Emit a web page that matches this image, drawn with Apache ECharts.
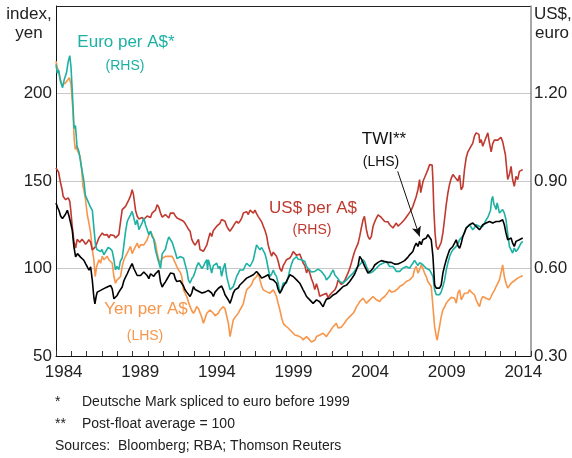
<!DOCTYPE html>
<html>
<head>
<meta charset="utf-8">
<title>Australian dollar</title>
<script src="https://cdn.jsdelivr.net/npm/echarts@6/dist/echarts.min.js"></script>
<style>
  html, body { margin: 0; padding: 0; background: #fff; }
  #chart { width: 572px; height: 458px; }
</style>
</head>
<body>
<div id="chart"></div>
<script>
// [decimal year, value]
// TWI, post-float average = 100 (LHS)
const twi = [
  [1984.00,137.4],[1984.10,135],[1984.20,133],[1984.30,130],[1984.42,128.5],[1984.52,127.5],[1984.62,131],[1984.74,133.3],[1984.85,130],[1984.95,129],
  [1985.06,121.9],[1985.17,112.3],[1985.28,106.6],[1985.40,108.5],[1985.50,107.5],[1985.60,106.5],[1985.71,106],[1985.82,104.7],[1985.93,102.8],
  [1986.04,101],[1986.15,99],[1986.26,101],[1986.37,93.2],[1986.47,83.6],[1986.54,79.8],[1986.62,84],[1986.69,86.5],[1986.80,87],[1986.91,87.5],
  [1987.02,88.4],[1987.12,88.5],[1987.23,89.5],[1987.34,89.4],[1987.45,90.3],[1987.56,90.3],[1987.67,88.4],[1987.78,82.7],[1987.88,81.7],[1987.99,84.6],
  [1988.10,86.5],[1988.21,88],[1988.32,89.4],[1988.43,93],[1988.54,95.1],[1988.65,97],[1988.75,99],[1988.86,101],[1988.97,102.8],
  [1989.08,100],[1989.19,98.9],[1989.30,96],[1989.41,95.1],[1989.52,96],[1989.62,97],[1989.73,98],[1989.84,98.9],[1989.95,96],
  [1990.06,94.2],[1990.17,97],[1990.27,96],[1990.38,95.5],[1990.49,97],[1990.60,98],[1990.71,98.9],[1990.82,92.3],[1990.93,89.4],
  [1991.03,91],[1991.14,92.3],[1991.25,94],[1991.36,95.1],[1991.47,97.4],[1991.58,97.4],[1991.69,97],[1991.79,94],[1991.88,92.6],[1991.99,91.6],
  [1992.10,93],[1992.21,92],[1992.32,90],[1992.42,87.8],[1992.53,86.5],[1992.64,85.9],[1992.75,84],[1992.86,86],[1992.97,89.7],
  [1993.08,88],[1993.18,87.8],[1993.30,87],[1993.40,86.8],[1993.52,86],[1993.62,85.9],[1993.73,86.5],[1993.84,86.8],[1993.94,87.5],
  [1994.05,87.8],[1994.16,86],[1994.27,84],[1994.38,86.5],[1994.49,87.3],[1994.60,88.7],[1994.70,88.7],[1994.81,90],[1994.92,87.8],
  [1995.03,85],[1995.14,84],[1995.25,82],[1995.36,80.1],[1995.47,83],[1995.57,86],[1995.68,87.8],[1995.79,87.8],[1995.90,89],
  [1996.00,90.6],[1996.12,91.5],[1996.23,92.6],[1996.33,93.5],[1996.44,94.5],[1996.55,95],[1996.66,95.4],[1996.77,96],[1996.88,96.4],[1996.98,97.5],
  [1997.09,98.3],[1997.20,99.3],[1997.31,96],[1997.42,94.5],[1997.53,94.5],[1997.64,95.4],[1997.74,94.5],[1997.85,96.5],[1997.96,94],
  [1998.07,93.5],[1998.18,93.5],[1998.29,92.8],[1998.39,91.6],[1998.50,88],[1998.61,85.9],[1998.72,87.5],[1998.83,89.7],[1998.94,90.5],
  [1999.04,92.6],[1999.15,94.5],[1999.26,96.4],[1999.37,95.5],[1999.48,95.4],[1999.59,94.5],[1999.70,93.5],[1999.80,92.5],[1999.91,91.6],
  [2000.02,90.5],[2000.13,87.8],[2000.24,86],[2000.35,84],[2000.46,83],[2000.56,82.1],[2000.67,81],[2000.78,80.1],[2000.89,81],
  [2001.00,82.1],[2001.10,81.5],[2001.21,81],[2001.32,79.5],[2001.43,78.2],[2001.54,80.5],[2001.65,82.5],[2001.75,82],[2001.86,83],[2001.97,84],
  [2002.09,84.9],[2002.20,85],[2002.30,85.9],[2002.41,86.5],[2002.52,87.8],[2002.63,88],[2002.74,89.7],[2002.85,90],[2002.96,90.5],
  [2003.06,91.6],[2003.17,92.6],[2003.28,93.5],[2003.39,95.4],[2003.50,97],[2003.61,99.3],[2003.72,102],[2003.82,106.9],[2003.93,105.5],
  [2004.04,105],[2004.15,101.2],[2004.26,102.1],[2004.36,97.4],[2004.47,98.3],[2004.58,99],[2004.69,100.2],[2004.80,102],[2004.91,103.1],
  [2005.02,103.5],[2005.13,104],[2005.23,104.5],[2005.34,105],[2005.45,104],[2005.56,103.1],[2005.67,103.5],[2005.78,104],[2005.88,103.5],[2005.99,103.1],
  [2006.10,102.5],[2006.21,102.1],[2006.32,102.6],[2006.43,103.1],[2006.54,103.5],[2006.64,104],[2006.75,104.5],[2006.86,105],[2006.97,106.5],
  [2007.08,107.8],[2007.18,108.5],[2007.29,109.7],[2007.40,112.6],[2007.51,114.5],[2007.62,112.6],[2007.73,115.5],[2007.84,113.6],[2007.94,116.4],
  [2008.05,116.5],[2008.16,117.4],[2008.27,119.3],[2008.38,120.3],[2008.49,116.4],[2008.60,106.9],[2008.71,90.7],[2008.82,88.8],[2008.93,88.5],
  [2009.03,88.8],[2009.14,90.7],[2009.25,97.4],[2009.36,101.5],[2009.47,105],[2009.58,108],[2009.69,110.7],[2009.80,111.5],[2009.90,112.6],
  [2010.01,114.5],[2010.12,116.4],[2010.23,113],[2010.34,111.6],[2010.45,114.5],[2010.55,118.3],[2010.66,120.5],[2010.77,123.1],[2010.88,124],[2010.99,125],
  [2011.10,125.5],[2011.20,126],[2011.31,125],[2011.42,124.1],[2011.53,123],[2011.64,122.2],[2011.75,123.5],[2011.85,125],[2011.96,125.5],
  [2012.07,126],[2012.18,126.5],[2012.29,126.9],[2012.40,126.5],[2012.50,126],[2012.61,125],[2012.72,126.9],[2012.83,127.9],[2012.94,126.9],
  [2013.04,127.5],[2013.15,127.9],[2013.26,125],[2013.37,120.3],[2013.48,116.4],[2013.59,115.5],[2013.70,117.4],[2013.80,114.5],[2013.91,112.6],
  [2014.02,115.5],[2014.13,115],[2014.24,116.4],[2014.35,116.8],[2014.46,117.4]
];

// Yen per A$ (LHS)
const yenPerAud = [
  [1984.00,218.5],[1984.08,215],[1984.17,212.8],[1984.28,208],[1984.40,205],[1984.50,204.2],[1984.62,206],[1984.72,207],[1984.87,209],[1984.98,205.2],
  [1985.10,190.9],[1985.19,173.7],[1985.26,168],[1985.33,170],[1985.41,167],[1985.50,166],[1985.58,164],[1985.67,157],[1985.76,147],[1985.82,145],[1985.93,139.3],
  [1986.04,130.7],[1986.15,126],[1986.26,120.3],[1986.37,110.7],[1986.47,105],[1986.56,95.4],[1986.65,101],[1986.80,105],[1986.91,103],
  [1987.02,107],[1987.12,105],[1987.23,104],[1987.34,107],[1987.45,105],[1987.56,104],[1987.67,103],[1987.78,95.4],[1987.88,91.6],[1987.99,93.5],
  [1988.10,94.5],[1988.21,95.4],[1988.32,101.2],[1988.43,105],[1988.54,107],[1988.65,108.8],[1988.75,110.7],[1988.86,112.6],[1988.97,108.5],
  [1989.08,110.7],[1989.19,111.7],[1989.30,114.5],[1989.41,111.7],[1989.52,113.5],[1989.62,112.6],[1989.73,113.5],[1989.84,114.5],[1989.95,116.4],
  [1990.06,119.3],[1990.17,121.2],[1990.27,119.3],[1990.38,118.3],[1990.49,114.5],[1990.60,108.8],[1990.71,105],[1990.82,103.1],[1990.93,105.9],
  [1991.03,106.9],[1991.14,106.9],[1991.25,107.5],[1991.36,106.9],[1991.47,107.3],[1991.58,106.9],[1991.69,105],[1991.79,103],[1991.88,101.2],[1991.99,99.3],
  [1992.10,98],[1992.21,95.4],[1992.32,87.8],[1992.42,86],[1992.53,84],[1992.64,81],[1992.75,78.2],[1992.86,76],[1992.97,74.4],
  [1993.08,76],[1993.18,78.2],[1993.30,77],[1993.40,76.3],[1993.52,72],[1993.62,68.7],[1993.73,71.5],[1993.84,74.4],[1993.94,75],
  [1994.05,76.3],[1994.16,75.5],[1994.27,74.4],[1994.38,73],[1994.49,72.5],[1994.60,74.5],[1994.70,76.3],[1994.81,77],[1994.92,78.2],
  [1995.03,77],[1995.14,76.3],[1995.25,68.7],[1995.36,61.1],[1995.47,61.1],[1995.57,70.6],[1995.68,72],[1995.79,72.5],[1995.90,74.5],
  [1996.00,76.3],[1996.12,78],[1996.23,80.1],[1996.33,84],[1996.44,87.8],[1996.55,88.5],[1996.66,89.7],[1996.77,91],[1996.88,93.5],[1996.98,94.5],
  [1997.09,95.4],[1997.20,97.4],[1997.31,93.5],[1997.42,90],[1997.53,87.8],[1997.64,87],[1997.74,86.8],[1997.85,86],[1997.96,85.9],
  [1998.07,87],[1998.18,87.8],[1998.29,86],[1998.39,84],[1998.50,80],[1998.61,76.3],[1998.72,72],[1998.83,68.7],[1998.94,67.5],
  [1999.04,66.8],[1999.15,66],[1999.26,64.9],[1999.37,64],[1999.48,63],[1999.59,62],[1999.70,61.1],[1999.80,61.5],[1999.91,61.1],
  [2000.02,60.5],[2000.13,59.2],[2000.24,60],[2000.35,61.1],[2000.46,60],[2000.56,59.2],[2000.67,58],[2000.78,57.3],[2000.89,59],
  [2001.00,61.1],[2001.10,61.5],[2001.21,62],[2001.32,62.5],[2001.43,63],[2001.54,62],[2001.65,61.1],[2001.75,62.5],[2001.86,63.9],[2001.97,64.9],
  [2002.09,66.8],[2002.20,67.5],[2002.30,68.7],[2002.41,66],[2002.52,64.9],[2002.63,66.5],[2002.74,67.8],[2002.85,69],[2002.96,70.6],
  [2003.06,71.5],[2003.17,72.5],[2003.28,73.5],[2003.39,74.4],[2003.50,76],[2003.61,78.2],[2003.72,79.5],[2003.82,81.1],[2003.93,82],
  [2004.04,83],[2004.15,81.5],[2004.26,80.2],[2004.36,81],[2004.47,82.1],[2004.58,83],[2004.69,84],[2004.80,83],[2004.91,82.1],
  [2005.02,81.5],[2005.13,81.1],[2005.23,82.5],[2005.34,83],[2005.45,84],[2005.56,84.9],[2005.67,86.5],[2005.78,87.8],[2005.88,86.5],[2005.99,85.9],
  [2006.10,87],[2006.21,87.8],[2006.32,88.5],[2006.43,89.7],[2006.54,90.2],[2006.64,90.7],[2006.75,91.5],[2006.86,92.6],[2006.97,93],
  [2007.08,93.5],[2007.18,94.5],[2007.29,95.4],[2007.40,99.3],[2007.51,101.2],[2007.62,97.4],[2007.73,99.3],[2007.84,102.1],[2007.94,100.2],
  [2008.05,97.4],[2008.16,95.4],[2008.27,92.6],[2008.38,93.5],[2008.49,89.7],[2008.60,78.2],[2008.71,66.8],[2008.82,61.1],[2008.88,59],[2008.95,63],
  [2009.03,66.8],[2009.14,72.5],[2009.25,76.3],[2009.36,78],[2009.47,80.2],[2009.58,81.5],[2009.69,82.1],[2009.80,83.5],[2009.90,83],
  [2010.01,83],[2010.12,80.2],[2010.23,85.9],[2010.34,87.8],[2010.45,82.1],[2010.55,83],[2010.66,85.9],[2010.77,84.9],[2010.88,86],[2010.99,87.8],
  [2011.10,86.5],[2011.20,86.9],[2011.31,85],[2011.42,82.1],[2011.53,80],[2011.64,78.2],[2011.75,82.1],[2011.85,84],[2011.96,83.5],
  [2012.07,83],[2012.18,83.5],[2012.29,82.1],[2012.40,84],[2012.50,85.9],[2012.61,87.5],[2012.72,89.7],[2012.83,91.5],[2012.94,93.5],
  [2013.04,97.4],[2013.15,102.1],[2013.26,95.4],[2013.37,91.6],[2013.48,88.8],[2013.59,89.7],[2013.70,91.6],[2013.80,92.6],[2013.91,93],
  [2014.02,93.5],[2014.13,94.5],[2014.24,95.4],[2014.35,95.5],[2014.46,95.8]
];

// US$ per A$ (RHS)
const usdPerAud = [
  [1984.00,0.945],[1984.08,0.95],[1984.17,0.93],[1984.30,0.893],[1984.40,0.87],[1984.47,0.847],[1984.55,0.85],[1984.63,0.836],[1984.72,0.84],[1984.80,0.842],[1984.90,0.83],[1984.96,0.802],
  [1985.06,0.744],[1985.17,0.693],[1985.28,0.67],[1985.38,0.70],[1985.46,0.695],[1985.55,0.69],[1985.62,0.693],[1985.70,0.70],[1985.76,0.705],[1985.85,0.69],[1985.93,0.683],
  [1986.04,0.69],[1986.15,0.699],[1986.26,0.69],[1986.37,0.664],[1986.47,0.67],[1986.58,0.675],[1986.69,0.69],[1986.80,0.705],[1986.91,0.70],
  [1987.02,0.722],[1987.13,0.715],[1987.24,0.72],[1987.35,0.716],[1987.45,0.705],[1987.56,0.716],[1987.67,0.722],[1987.78,0.713],[1987.88,0.705],[1987.99,0.71],
  [1988.10,0.716],[1988.21,0.76],[1988.32,0.802],[1988.43,0.80],[1988.54,0.813],[1988.65,0.81],[1988.76,0.836],[1988.87,0.85],[1988.97,0.87],
  [1989.05,0.855],[1989.19,0.80],[1989.30,0.779],[1989.41,0.77],[1989.52,0.768],[1989.62,0.775],[1989.73,0.768],[1989.84,0.77],[1989.95,0.78],
  [1990.06,0.785],[1990.17,0.775],[1990.27,0.79],[1990.38,0.796],[1990.49,0.80],[1990.60,0.819],[1990.71,0.81],[1990.82,0.79],[1990.93,0.776],
  [1991.03,0.773],[1991.14,0.785],[1991.25,0.779],[1991.36,0.773],[1991.47,0.79],[1991.58,0.785],[1991.69,0.79],[1991.79,0.78],[1991.90,0.773],
  [1992.01,0.776],[1992.10,0.768],[1992.21,0.762],[1992.32,0.762],[1992.42,0.755],[1992.53,0.745],[1992.64,0.735],[1992.75,0.728],[1992.86,0.70],[1992.97,0.688],
  [1993.08,0.68],[1993.18,0.676],[1993.30,0.70],[1993.40,0.665],[1993.52,0.67],[1993.62,0.659],[1993.73,0.66],[1993.84,0.68],[1993.94,0.70],
  [1994.05,0.722],[1994.16,0.71],[1994.27,0.73],[1994.38,0.733],[1994.49,0.745],[1994.60,0.74],[1994.70,0.755],[1994.81,0.768],[1994.92,0.765],
  [1995.03,0.762],[1995.14,0.745],[1995.25,0.735],[1995.36,0.728],[1995.47,0.725],[1995.57,0.745],[1995.68,0.755],[1995.79,0.762],[1995.90,0.755],
  [1996.00,0.762],[1996.12,0.773],[1996.23,0.79],[1996.33,0.785],[1996.44,0.795],[1996.55,0.785],[1996.66,0.80],[1996.77,0.795],[1996.88,0.79],[1996.98,0.80],
  [1997.09,0.788],[1997.20,0.778],[1997.31,0.773],[1997.42,0.76],[1997.53,0.745],[1997.64,0.73],[1997.75,0.711],[1997.85,0.68],[1997.96,0.66],
  [1998.07,0.642],[1998.18,0.656],[1998.29,0.655],[1998.39,0.642],[1998.50,0.625],[1998.61,0.60],[1998.72,0.59],[1998.83,0.61],[1998.94,0.62],
  [1999.04,0.63],[1999.15,0.625],[1999.26,0.636],[1999.37,0.645],[1999.48,0.658],[1999.59,0.655],[1999.70,0.645],[1999.80,0.648],[1999.91,0.65],
  [2000.02,0.645],[2000.13,0.619],[2000.24,0.61],[2000.35,0.585],[2000.46,0.60],[2000.56,0.585],[2000.67,0.565],[2000.78,0.55],[2000.89,0.528],
  [2001.00,0.548],[2001.10,0.53],[2001.21,0.505],[2001.32,0.50],[2001.43,0.51],[2001.54,0.505],[2001.65,0.515],[2001.75,0.50],[2001.86,0.508],[2001.97,0.515],
  [2002.09,0.52],[2002.20,0.527],[2002.30,0.538],[2002.41,0.56],[2002.52,0.555],[2002.63,0.545],[2002.74,0.55],[2002.85,0.56],[2002.96,0.561],
  [2003.06,0.585],[2003.17,0.60],[2003.28,0.62],[2003.39,0.641],[2003.50,0.66],[2003.61,0.665],[2003.72,0.687],[2003.82,0.71],[2003.93,0.74],
  [2004.04,0.767],[2004.13,0.779],[2004.26,0.733],[2004.36,0.71],[2004.47,0.70],[2004.58,0.71],[2004.69,0.744],[2004.80,0.76],[2004.91,0.773],
  [2005.02,0.784],[2005.13,0.784],[2005.23,0.775],[2005.34,0.768],[2005.45,0.761],[2005.56,0.765],[2005.67,0.76],[2005.78,0.75],[2005.88,0.745],[2005.99,0.739],
  [2006.10,0.745],[2006.21,0.756],[2006.32,0.745],[2006.43,0.75],[2006.54,0.756],[2006.64,0.761],[2006.75,0.768],[2006.86,0.773],[2006.97,0.784],
  [2007.08,0.79],[2007.18,0.80],[2007.29,0.813],[2007.40,0.83],[2007.51,0.847],[2007.62,0.87],[2007.73,0.905],[2007.80,0.86],[2007.88,0.88],[2007.96,0.90],
  [2008.05,0.911],[2008.16,0.925],[2008.27,0.939],[2008.38,0.956],[2008.49,0.962],[2008.55,0.955],[2008.60,0.90],[2008.66,0.80],[2008.74,0.72],[2008.82,0.676],[2008.93,0.665],
  [2009.03,0.664],[2009.14,0.69],[2009.25,0.722],[2009.36,0.77],[2009.47,0.82],[2009.58,0.86],[2009.69,0.89],[2009.80,0.91],[2009.90,0.922],
  [2010.01,0.915],[2010.12,0.916],[2010.23,0.90],[2010.34,0.92],[2010.44,0.87],[2010.55,0.88],[2010.66,0.94],[2010.77,0.98],[2010.88,1.00],[2010.99,1.01],
  [2011.10,1.01],[2011.20,1.03],[2011.31,1.054],[2011.42,1.065],[2011.50,1.071],[2011.60,1.06],[2011.66,1.031],[2011.75,1.042],[2011.85,1.019],[2011.96,1.014],
  [2012.07,1.05],[2012.18,1.065],[2012.29,1.03],[2012.40,1.00],[2012.50,1.028],[2012.61,1.04],[2012.72,1.035],[2012.83,1.04],[2012.94,1.045],
  [2013.04,1.05],[2013.15,1.035],[2013.26,1.03],[2013.33,0.99],[2013.40,0.95],[2013.48,0.905],[2013.59,0.922],[2013.70,0.95],[2013.80,0.905],[2013.91,0.882],
  [2014.02,0.916],[2014.13,0.905],[2014.24,0.933],[2014.35,0.93],[2014.46,0.939]
];

// Euro per A$, Deutsche Mark spliced before 1999 (RHS)
const euroPerAud = [
  [1984.00,1.30],[1984.08,1.27],[1984.17,1.28],[1984.30,1.24],[1984.43,1.22],[1984.55,1.25],[1984.68,1.27],[1984.80,1.31],[1984.90,1.33],[1984.98,1.29],
  [1985.08,1.19],[1985.18,1.08],[1985.27,1.09],[1985.37,1.02],[1985.50,1.00],[1985.62,0.96],[1985.72,0.93],[1985.82,0.90],[1985.92,0.85],
  [1986.04,0.836],[1986.15,0.83],[1986.25,0.81],[1986.37,0.80],[1986.47,0.74],[1986.58,0.68],[1986.67,0.665],[1986.80,0.67],[1986.91,0.658],
  [1987.00,0.665],[1987.12,0.647],[1987.23,0.652],[1987.40,0.672],[1987.55,0.668],[1987.67,0.66],[1987.78,0.63],[1987.88,0.595],[1987.97,0.607],
  [1988.10,0.596],[1988.20,0.625],[1988.32,0.636],[1988.43,0.68],[1988.54,0.727],[1988.65,0.761],[1988.75,0.773],[1988.86,0.784],[1988.97,0.796],
  [1989.08,0.79],[1989.19,0.75],[1989.30,0.767],[1989.41,0.733],[1989.52,0.739],[1989.62,0.756],[1989.73,0.773],[1989.84,0.75],[1989.95,0.733],
  [1990.06,0.716],[1990.17,0.728],[1990.27,0.71],[1990.38,0.70],[1990.49,0.664],[1990.60,0.641],[1990.71,0.636],[1990.82,0.60],[1990.93,0.65],
  [1991.03,0.656],[1991.14,0.666],[1991.25,0.69],[1991.36,0.708],[1991.47,0.705],[1991.58,0.69],[1991.69,0.672],[1991.79,0.655],[1991.90,0.634],[1991.99,0.63],
  [1992.10,0.641],[1992.21,0.641],[1992.32,0.636],[1992.42,0.632],[1992.55,0.59],[1992.64,0.561],[1992.75,0.55],[1992.86,0.565],[1992.97,0.573],
  [1993.08,0.59],[1993.18,0.607],[1993.30,0.62],[1993.40,0.624],[1993.52,0.60],[1993.62,0.607],[1993.73,0.62],[1993.84,0.63],[1993.89,0.595],[1993.94,0.63],
  [1994.05,0.61],[1994.16,0.584],[1994.27,0.61],[1994.38,0.615],[1994.49,0.618],[1994.60,0.60],[1994.70,0.607],[1994.81,0.573],[1994.92,0.60],
  [1995.03,0.618],[1995.14,0.573],[1995.25,0.55],[1995.36,0.527],[1995.47,0.533],[1995.57,0.538],[1995.68,0.555],[1995.79,0.573],[1995.90,0.584],
  [1996.00,0.595],[1996.12,0.59],[1996.23,0.595],[1996.33,0.607],[1996.44,0.618],[1996.55,0.612],[1996.66,0.607],[1996.77,0.618],[1996.88,0.63],[1996.98,0.655],
  [1997.09,0.681],[1997.20,0.676],[1997.31,0.664],[1997.42,0.672],[1997.53,0.676],[1997.64,0.65],[1997.74,0.63],[1997.85,0.60],[1997.96,0.573],
  [1998.07,0.58],[1998.18,0.595],[1998.29,0.58],[1998.39,0.573],[1998.50,0.55],[1998.61,0.515],[1998.72,0.53],[1998.83,0.55],[1998.94,0.548],
  [1999.04,0.55],[1999.15,0.57],[1999.26,0.595],[1999.37,0.615],[1999.48,0.63],[1999.59,0.635],[1999.70,0.641],[1999.80,0.632],[1999.91,0.63],
  [2000.02,0.63],[2000.13,0.63],[2000.24,0.624],[2000.35,0.607],[2000.46,0.60],[2000.56,0.595],[2000.67,0.588],[2000.78,0.584],[2000.89,0.59],
  [2001.00,0.595],[2001.10,0.598],[2001.21,0.595],[2001.32,0.59],[2001.43,0.584],[2001.54,0.575],[2001.65,0.561],[2001.75,0.567],[2001.86,0.573],[2001.97,0.585],
  [2002.09,0.595],[2002.20,0.578],[2002.30,0.573],[2002.41,0.565],[2002.52,0.555],[2002.63,0.56],[2002.74,0.55],[2002.85,0.555],[2002.96,0.561],
  [2003.06,0.567],[2003.17,0.573],[2003.28,0.578],[2003.39,0.584],[2003.50,0.59],[2003.61,0.601],[2003.72,0.607],[2003.82,0.613],[2003.93,0.62],
  [2004.04,0.63],[2004.15,0.622],[2004.26,0.607],[2004.36,0.595],[2004.47,0.584],[2004.58,0.59],[2004.69,0.59],[2004.80,0.595],[2004.91,0.601],
  [2005.02,0.607],[2005.13,0.613],[2005.23,0.61],[2005.34,0.618],[2005.45,0.62],[2005.56,0.624],[2005.67,0.615],[2005.78,0.607],[2005.88,0.61],[2005.99,0.607],
  [2006.10,0.60],[2006.21,0.59],[2006.32,0.59],[2006.43,0.59],[2006.54,0.595],[2006.64,0.601],[2006.75,0.605],[2006.86,0.607],[2006.97,0.605],
  [2007.08,0.601],[2007.18,0.61],[2007.29,0.618],[2007.40,0.628],[2007.51,0.63],[2007.62,0.61],[2007.73,0.62],[2007.84,0.615],[2007.94,0.613],
  [2008.05,0.608],[2008.16,0.601],[2008.27,0.598],[2008.38,0.595],[2008.49,0.60],[2008.60,0.573],[2008.71,0.527],[2008.82,0.51],[2008.93,0.515],
  [2009.03,0.51],[2009.14,0.52],[2009.25,0.538],[2009.36,0.56],[2009.47,0.595],[2009.58,0.62],[2009.69,0.641],[2009.80,0.655],[2009.90,0.664],
  [2010.01,0.67],[2010.12,0.676],[2010.23,0.685],[2010.34,0.699],[2010.44,0.705],[2010.55,0.71],[2010.66,0.725],[2010.77,0.739],[2010.88,0.745],[2010.99,0.75],
  [2011.10,0.745],[2011.20,0.733],[2011.31,0.74],[2011.42,0.75],[2011.53,0.745],[2011.64,0.744],[2011.75,0.75],[2011.85,0.744],[2011.96,0.755],
  [2012.07,0.767],[2012.18,0.775],[2012.29,0.779],[2012.36,0.80],[2012.43,0.836],[2012.50,0.847],[2012.58,0.82],[2012.65,0.813],[2012.72,0.802],[2012.79,0.825],[2012.86,0.81],[2012.94,0.79],
  [2013.04,0.795],[2013.15,0.802],[2013.26,0.79],[2013.37,0.767],[2013.48,0.72],[2013.59,0.676],[2013.70,0.664],[2013.80,0.653],[2013.91,0.67],
  [2014.02,0.658],[2014.13,0.665],[2014.24,0.676],[2014.35,0.687],[2014.46,0.693]
];

const footnotes = [
  ['*', 'Deutsche Mark spliced to euro before 1999'],
  ['**', 'Post-float average = 100']
];
const sourceText = 'Sources:  Bloomberg; RBA; Thomson Reuters';

const TEAL = '#1DB1A4';
const RED = '#C0392F';
const ORANGE = '#F7964B';
const FONT = '"Liberation Sans", Arial, sans-serif';

const chart = echarts.init(document.getElementById('chart'), null, { renderer: 'canvas' });

function label(x, y, text, color, size, align) {
  return {
    type: 'text', silent: true,
    style: {
      x: x, y: y, text: text, fill: color,
      font: size + 'px ' + FONT,
      textAlign: align || 'center', textVerticalAlign: 'middle'
    }
  };
}

function lineSeries(name, data, color, axis, z) {
  return {
    name: name, type: 'line', data: data, yAxisIndex: axis,
    showSymbol: false, symbol: 'none', silent: true, z: z,
    lineStyle: { color: color, width: 1.6 }
  };
}

const graphics = [
  label(29, 14, 'index,', '#222', 17),
  label(29, 33, 'yen', '#222', 17),
  label(534, 14, 'US$,', '#222', 17, 'left'),
  label(535, 33, 'euro', '#222', 17, 'left'),
  label(126, 42, 'Euro per A$*', TEAL, 17),
  label(125, 66, '(RHS)', TEAL, 14),
  label(313, 208, 'US$ per A$', RED, 17),
  label(312, 230, '(RHS)', RED, 14),
  label(384, 139, 'TWI**', '#111', 17),
  label(381, 162, '(LHS)', '#111', 14),
  label(146, 309, 'Yen per A$', ORANGE, 17),
  label(145, 336, '(LHS)', ORANGE, 14),
  label(55, 446, sourceText, '#222', 14, 'left')
];
footnotes.forEach(function (f, i) {
  graphics.push(label(55, 402 + i * 22, f[0], '#222', 14, 'left'));
  graphics.push(label(82, 402 + i * 22, f[1], '#222', 14, 'left'));
});

const option = {
  animation: false,
  backgroundColor: '#fff',
  textStyle: { fontFamily: FONT },
  grid: { left: 56, right: 41, top: 6, bottom: 102, containLabel: false, outerBoundsMode: 'none' },
  xAxis: {
    type: 'value', min: 1984, max: 2015, interval: 1,
    axisLine: { show: true, lineStyle: { color: '#111', width: 1 } },
    axisTick: { show: true, inside: true, length: 5, lineStyle: { color: '#333' } },
    splitLine: { show: false },
    axisLabel: {
      color: '#222', fontSize: 17, margin: 8,
      // year labels sit in the middle of the year
      padding: [0, 0, 0, 15.3],
      showMinLabel: true, showMaxLabel: true,
      formatter: function (v) { return (Math.round(v) - 1984) % 5 === 0 ? String(Math.round(v)) : ''; }
    }
  },
  yAxis: [{
    type: 'value', min: 50, max: 250, interval: 50, position: 'left',
    axisLine: { show: true, lineStyle: { color: '#111', width: 1 } },
    axisTick: { show: false },
    axisLabel: {
      color: '#222', fontSize: 17, margin: 4,
      formatter: function (v) { return v >= 250 ? '' : String(v); }
    },
    splitLine: {
      show: true,
      lineStyle: { color: ['#c8c8c8', '#c8c8c8', '#c8c8c8', '#c8c8c8', '#222'], width: 1 }
    }
  }, {
    type: 'value', min: 0.3, max: 1.5, interval: 0.3, position: 'right',
    axisLine: { show: true, lineStyle: { color: '#8a8a8a', width: 1.5 } },
    axisTick: { show: false },
    axisLabel: {
      color: '#222', fontSize: 17, margin: 3,
      formatter: function (v) { return v >= 1.49 ? '' : v.toFixed(2); }
    },
    splitLine: { show: false }
  }],
  series: [
    lineSeries('Yen per A$', yenPerAud, ORANGE, 0, 2),
    lineSeries('US$ per A$', usdPerAud, RED, 1, 3),
    lineSeries('Euro per A$', euroPerAud, TEAL, 1, 4),
    Object.assign(lineSeries('TWI', twi, '#000', 0, 5), {
      markLine: {
        silent: true, symbol: ['none', 'arrow'], symbolSize: [7, 10],
        label: { show: false },
        lineStyle: { color: '#111', width: 1, type: 'solid' },
        data: [[{ coord: [2006.3, 155.5] }, { coord: [2007.73, 118.3] }]]
      }
    })
  ],
  graphic: graphics
};

chart.setOption(option);
</script>
</body>
</html>
